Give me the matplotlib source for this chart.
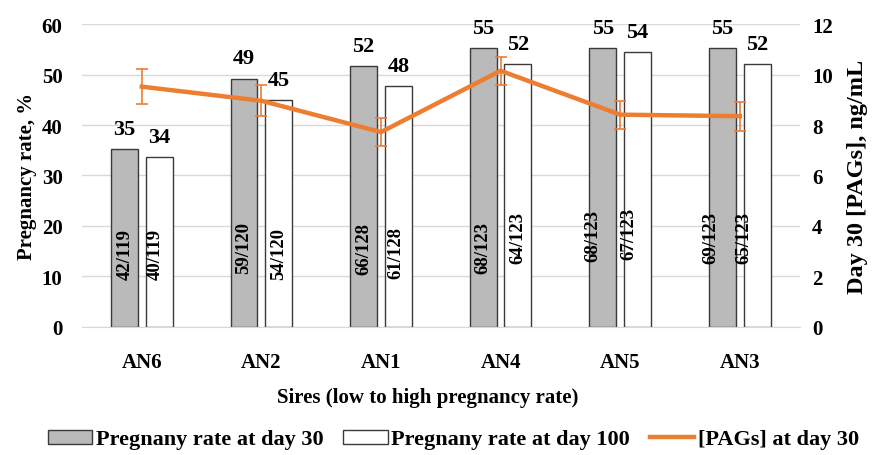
import matplotlib
matplotlib.use("Agg")
import matplotlib.pyplot as plt
import numpy as np
from matplotlib.patches import Patch
from matplotlib.lines import Line2D

plt.rcParams['font.family'] = ['Liberation Serif', 'DejaVu Serif']
plt.rcParams['font.weight'] = 'bold'

# Sires, ordered from low to high pregnancy rate
sires = ['AN6', 'AN2', 'AN1', 'AN4', 'AN5', 'AN3']

# Pregnancy rate (%) at day 30 and day 100
rate_d30 = [35.3, 49.2, 51.6, 55.3, 55.3, 55.3]
rate_d100 = [33.6, 45.0, 47.7, 52.0, 54.5, 52.0]

# Pregnant / inseminated counts
count_d30 = ['42/119', '59/120', '66/128', '68/123', '68/123', '69/123']
count_d100 = ['40/119', '54/120', '61/128', '64/123', '67/123', '65/123']

# Day 30 PAG concentration (ng/mL) and its error
pags = [9.52, 8.96, 7.72, 10.15, 8.41, 8.35]
pags_err = [0.70, 0.62, 0.57, 0.56, 0.55, 0.57]

# placement of the count labels inside the bars
cnt30_dx = [0.01, 0.0, 0.0, 0.0, -0.08, -0.10]
cnt30_y = [14.5, 15.8, 15.6, 15.9, 18.2, 17.8]
cnt100_dx = [-0.03, 0.0, -0.02, 0.0, -0.07, -0.11]
cnt100_y = [14.5, 14.6, 14.8, 17.9, 18.6, 17.8]

grey = '#B9BAB9'
edge = '#3A3A3A'
orange = '#ED7D31'
fs = 15

fig = plt.figure(figsize=(8.72, 4.56), dpi=100)
ax = fig.add_axes([0.094, 0.281, 0.823, 0.664])
ax2 = ax.twinx()

x = np.arange(len(sires))
off = 0.145
w = 0.225

ax.bar(x - off, rate_d30, w, color=grey, edgecolor=edge, linewidth=1, zorder=2)
ax.bar(x + off, rate_d100, w, color='white', edgecolor=edge, linewidth=1, zorder=2)

for i in range(len(sires)):
    ax.text(x[i] - off, rate_d30[i] + 2.0, f"{rate_d30[i]:.0f}", ha='center', va='bottom',
            fontsize=16, fontweight='bold', zorder=4)
    ax.text(x[i] + off, rate_d100[i] + 2.0, f"{rate_d100[i]:.0f}", ha='center', va='bottom',
            fontsize=16, fontweight='bold', zorder=4)
    ax.text(x[i] - off + cnt30_dx[i], cnt30_y[i], count_d30[i], rotation=90,
            ha='center', va='center', fontsize=13.5, fontweight='bold', zorder=4)
    ax.text(x[i] + off + cnt100_dx[i], cnt100_y[i], count_d100[i], rotation=90,
            ha='center', va='center', fontsize=13.5, fontweight='bold', zorder=4)

ax.set_ylim(0, 60)
ax.set_yticks(np.arange(0, 61, 10))
ax.set_xlim(-0.5, len(sires) - 0.5)
ax.set_xticks(x)
ax.set_xticklabels(sires, fontsize=fs, fontweight='bold')
ax.grid(axis='y', color='#D9D9D9', linewidth=1, zorder=0)
ax.set_axisbelow(True)
for s in ['top', 'right', 'left']:
    ax.spines[s].set_visible(False)
ax.spines['bottom'].set_color('#D9D9D9')
ax.tick_params(axis='both', length=0, labelsize=fs)
ax.tick_params(axis='y', pad=14)
ax.tick_params(axis='x', pad=18)
ax.set_ylabel('Pregnancy rate, %', fontsize=fs, fontweight='bold', labelpad=3)
ax.set_xlabel('Sires (low to high pregnancy rate)', fontsize=fs, fontweight='bold')
ax.xaxis.set_label_coords(0.482, -0.20)

ax2.errorbar(x, pags, yerr=pags_err, color=orange, linewidth=3.2, elinewidth=1.2,
             capsize=4, capthick=1.2, zorder=5)
ax2.set_ylim(0, 12)
ax2.set_yticks(np.arange(0, 13, 2))
for s in ['top', 'right', 'left', 'bottom']:
    ax2.spines[s].set_visible(False)
ax2.tick_params(axis='y', length=0, labelsize=fs, pad=9)
ax2.set_ylabel('Day 30 [PAGs], ng/mL', fontsize=17.5, fontweight='bold', labelpad=10)

handles = [Patch(facecolor=grey, edgecolor=edge, linewidth=1),
           Patch(facecolor='white', edgecolor=edge, linewidth=1),
           Line2D([0], [0], color=orange, linewidth=3.2)]
labels = ['Pregnany rate at day 30', 'Pregnany rate at day 100', '[PAGs] at day 30']
fig.legend(handles, labels, loc='center', bbox_to_anchor=(0.52, 0.034), ncol=3,
           frameon=False, handlelength=2.0, handleheight=0.6, handletextpad=0.15,
           columnspacing=0.9, prop={'weight': 'bold', 'size': 16})

fig.savefig('out.png', dpi=100)
